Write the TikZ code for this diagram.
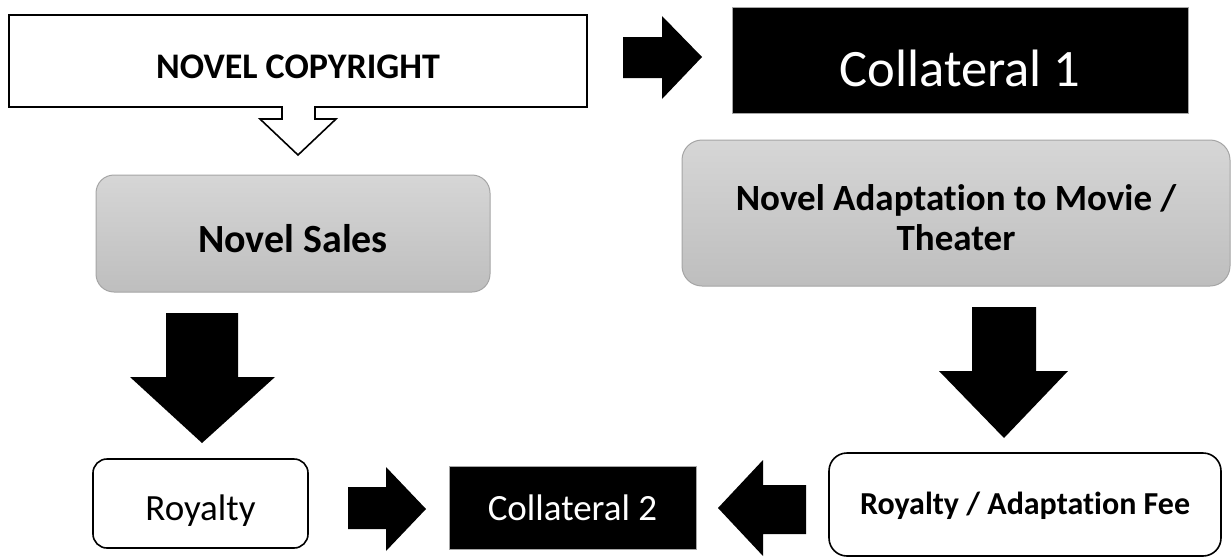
\documentclass[tikz,border=0pt]{standalone}
\usepackage{fontspec}
\setmainfont[Ligatures={CommonOff,ContextualOff}]{Carlito}

\definecolor{boxtop}{RGB}{214,214,214}
\definecolor{boxbot}{RGB}{190,190,190}
\definecolor{boxline}{RGB}{165,165,165}

\tikzset{
  graybox/.style={rounded corners=18pt, draw=boxline, line width=1pt, top color=boxtop, bottom color=boxbot},
  whitebox/.style={rounded corners=14pt, draw=black, line width=1.6pt, fill=white, text depth=0pt},
  blackbox/.style={fill=black, draw=gray!70, line width=0.6pt, text=white, text depth=0pt}
}

\begin{document}
\begin{tikzpicture}[x=1pt,y=-1pt]
\useasboundingbox (0,0) rectangle (1232,557);
% copyright callout
\draw[line width=1.6pt] (9,15) -- (587,15) -- (587,107) -- (315,107) -- (315,119) -- (336,119) -- (298,155) -- (260,119) -- (282,119) -- (282,107) -- (9,107) -- cycle;
\node[anchor=base, font=\fontsize{36}{40}\selectfont\bfseries] (copyright) at (298,78) {NOVEL COPYRIGHT};

% top row
\fill[black] (623,37) -- (662,37) -- (662,16) -- (702,57) -- (662,99) -- (662,78) -- (623,78) -- cycle;
\node[blackbox, minimum width=456pt, minimum height=106pt, text height=52pt, font=\fontsize{52.6}{60}\selectfont] (col1) at (960,60) {Collateral 1};

% middle row
\node[graybox, minimum width=394pt, minimum height=117pt, text height=38pt, text depth=0pt, font=\fontsize{40}{44}\selectfont\bfseries] (sales) at (293,233.5) {Novel Sales};
\node[graybox, rounded corners=20pt, minimum width=548pt, minimum height=146pt, align=center, text height=74pt, text depth=0pt, font=\fontsize{37}{40}\selectfont\bfseries] (adapt) at (956,213) {Novel Adaptation to Movie /\\Theater};

% down arrows
\fill[black] (166,313) -- (238,313) -- (238,377) -- (275,377) -- (202,443) -- (130,377) -- (166,377) -- cycle;
\fill[black] (972,307) -- (1036,307) -- (1036,371) -- (1068,371) -- (1004,438) -- (939,371) -- (972,371) -- cycle;

% bottom row
\node[whitebox, minimum width=215pt, minimum height=89pt, text height=33pt, font=\fontsize{37}{40}\selectfont] (royalty) at (200.5,503.5) {Royalty};
\fill[black] (348,487) -- (386,487) -- (386,467) -- (426,509) -- (386,551) -- (386,529) -- (348,529) -- cycle;
\node[blackbox, minimum width=247pt, minimum height=83pt, text height=25pt, font=\fontsize{37}{40}\selectfont] (col2) at (572.5,507.5) {Collateral 2};
\fill[black] (806,485) -- (763,485) -- (763,460) -- (718,508) -- (763,556) -- (763,534) -- (806,534) -- cycle;
\node[whitebox, rounded corners=18pt, minimum width=392pt, minimum height=103pt, text height=20pt, font=\fontsize{32}{36}\selectfont\bfseries] (fee) at (1025,504.5) {Royalty / Adaptation Fee};
\end{tikzpicture}
\end{document}
